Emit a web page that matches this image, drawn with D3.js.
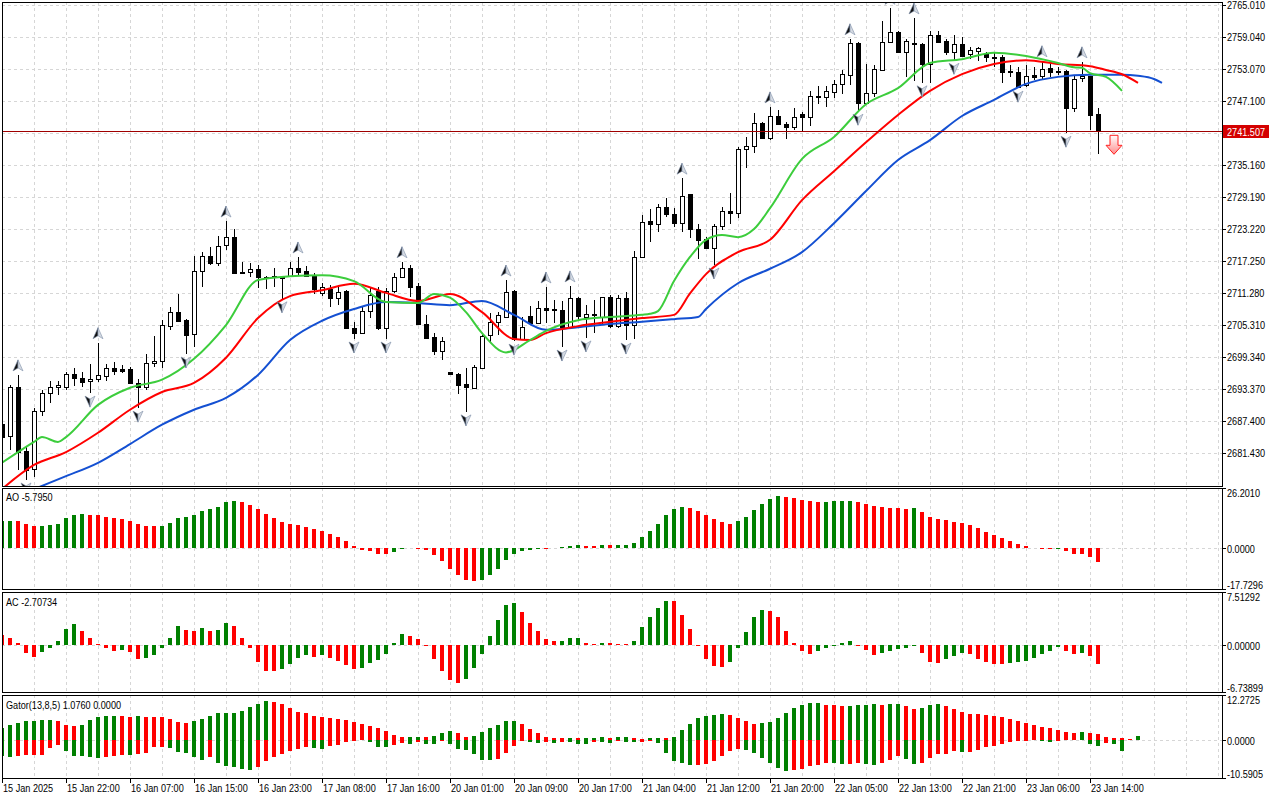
<!DOCTYPE html>
<meta charset="utf-8">
<style>
  body { margin: 0; background: #fff; }
  svg text {
    font-family: "Liberation Sans", Arial, sans-serif;
    font-size: 11px;
    fill: #000;
  }
  .grid line { stroke: #d6d6d6; stroke-dasharray: 3,3; shape-rendering: crispEdges; }
</style>
<body>
<script src="https://d3js.org/d3.v7.min.js"></script>
<script>

// ---- hourly candles, 15 Jan 14:00 .. 23 Jan 15:00 ----
var opens = [2686.8,2684.6,2693.7,2681.8,2678.4,2689.3,2692.6,2693.7,2693.7,2696.2,
  2695.4,2694.9,2695.2,2695.8,2697.3,2697.1,2697.1,2694.5,2693.7,2698.2,
  2698.6,2705.1,2707.7,2706.2,2703.6,2715.4,2718.2,2716.9,2720.2,2721.7,
  2715.2,2715.2,2715.8,2714.3,2714.3,2714.3,2714.4,2715.9,2715.4,2714.4,
  2711.3,2712.0,2710.3,2711.7,2704.8,2703.8,2707.9,2711.7,2704.8,2711.7,
  2714.3,2715.9,2712.6,2705.5,2703.1,2700.5,2696.5,2696.2,2694.3,2693.6,
  2697.3,2703.4,2705.9,2706.8,2711.7,2702.7,2707.0,2705.7,2708.5,2708.3,
  2708.1,2704.9,2710.3,2706.8,2707.4,2706.8,2710.5,2705.1,2710.3,2705.3,
  2718.0,2724.7,2724.1,2727.3,2726.0,2724.3,2729.7,2723.2,2721.4,2719.7,
  2723.8,2726.6,2726.2,2738.1,2738.7,2743.0,2740.2,2744.3,2742.8,2742.3,
  2744.7,2744.1,2748.0,2747.8,2748.8,2750.3,2752.0,2757.9,2746.7,2748.6,
  2752.9,2758.1,2760.0,2756.2,2757.9,2757.7,2754.0,2759.4,2758.3,2756.2,
  2757.7,2755.9,2756.4,2755.9,2755.3,2755.3,2752.7,2752.5,2750.1,2752.0,
  2751.8,2753.3,2752.7,2752.7,2745.8,2751.4,2751.8,2744.7];
var highs = [2687.6,2694.1,2696.0,2682.5,2689.8,2693.2,2694.9,2694.9,2696.5,2697.3,
  2696.5,2698.0,2702.0,2698.0,2698.4,2697.8,2697.5,2695.2,2699.9,2703.3,
  2706.2,2708.7,2711.1,2706.4,2718.2,2718.9,2719.9,2721.9,2724.7,2723.2,
  2717.1,2716.9,2716.5,2714.4,2715.9,2714.4,2717.1,2718.0,2716.3,2715.0,
  2713.1,2712.8,2712.4,2711.8,2705.9,2708.7,2712.2,2712.4,2712.2,2715.0,
  2717.1,2716.5,2713.1,2707.2,2703.8,2703.1,2696.5,2696.4,2697.3,2697.8,
  2703.4,2707.5,2707.7,2713.7,2711.8,2706.8,2708.9,2709.8,2712.4,2710.0,
  2709.8,2712.6,2710.5,2709.0,2710.0,2710.6,2710.9,2710.9,2711.5,2719.1,
  2725.8,2726.9,2727.9,2729.0,2727.1,2732.7,2729.8,2724.1,2721.7,2724.1,
  2727.3,2729.9,2738.5,2740.4,2744.9,2743.2,2746.0,2745.4,2743.2,2745.8,
  2745.0,2748.9,2749.9,2749.9,2751.0,2752.9,2758.7,2758.1,2754.0,2753.8,
  2762.0,2764.4,2760.2,2758.7,2762.6,2757.9,2760.2,2760.2,2758.7,2759.4,
  2759.0,2757.2,2757.2,2756.2,2756.1,2755.7,2753.8,2753.4,2753.8,2753.4,
  2754.6,2754.4,2753.4,2752.9,2751.8,2754.4,2751.8,2745.8];
var lows = [2682.9,2682.0,2678.3,2676.4,2677.0,2688.3,2690.8,2692.2,2693.2,2693.9,
  2693.7,2692.6,2694.7,2694.9,2696.0,2696.4,2694.3,2689.8,2693.2,2697.5,
  2697.3,2704.4,2705.9,2699.9,2701.2,2712.4,2716.5,2716.3,2719.3,2714.8,
  2714.8,2714.3,2712.2,2712.0,2712.4,2710.2,2714.3,2714.6,2714.3,2711.1,
  2710.7,2708.7,2709.0,2704.6,2702.7,2703.6,2706.6,2704.4,2702.7,2711.3,
  2714.1,2710.5,2705.3,2702.7,2699.7,2698.8,2696.2,2692.4,2689.1,2693.6,
  2697.3,2702.0,2703.4,2706.8,2702.3,2702.5,2705.3,2705.7,2705.7,2705.7,
  2701.2,2704.9,2706.2,2702.9,2703.8,2705.3,2704.8,2704.8,2702.5,2702.7,
  2717.8,2720.8,2722.7,2725.5,2723.6,2722.7,2721.5,2717.6,2719.5,2716.5,
  2723.0,2724.1,2725.3,2734.6,2737.4,2740.0,2739.8,2742.6,2740.0,2741.7,
  2741.5,2742.4,2746.5,2746.0,2747.7,2748.4,2750.1,2745.2,2746.5,2747.8,
  2752.7,2757.9,2756.1,2751.6,2750.8,2750.5,2750.5,2757.9,2755.7,2754.7,
  2755.3,2754.9,2754.6,2754.4,2753.4,2750.5,2751.6,2749.5,2749.7,2751.0,
  2751.0,2751.6,2752.0,2741.1,2745.0,2750.6,2741.7,2737.2];
var closes = [2684.4,2693.7,2681.6,2678.3,2689.3,2692.6,2693.7,2694.1,2696.2,2695.4,
  2694.7,2695.2,2696.0,2697.3,2696.7,2696.7,2694.5,2693.7,2698.2,2698.6,
  2705.3,2707.7,2706.1,2703.4,2715.4,2718.2,2716.9,2720.0,2721.7,2715.0,
  2715.1,2715.8,2714.4,2714.2,2714.4,2714.2,2715.9,2715.2,2714.4,2712.0,
  2712.4,2710.3,2711.5,2704.8,2703.8,2707.9,2710.9,2704.8,2711.7,2714.3,
  2715.9,2712.4,2705.5,2702.9,2700.5,2702.3,2696.2,2694.1,2693.7,2697.5,
  2703.2,2705.9,2707.2,2711.5,2702.7,2704.9,2705.7,2708.5,2708.1,2708.1,
  2704.9,2710.3,2707.0,2707.4,2707.2,2710.5,2705.1,2710.3,2705.3,2718.0,
  2724.5,2724.1,2727.3,2726.0,2724.3,2729.4,2723.2,2721.2,2719.7,2723.8,
  2726.6,2726.2,2738.1,2738.7,2743.0,2740.2,2744.3,2742.8,2742.3,2744.1,
  2744.1,2748.0,2747.9,2748.9,2750.3,2752.1,2757.9,2746.7,2748.6,2753.1,
  2758.1,2760.0,2756.2,2758.3,2757.7,2754.0,2759.4,2758.1,2756.2,2757.7,
  2755.5,2756.6,2757.0,2755.3,2755.2,2752.5,2752.5,2749.7,2751.8,2751.6,
  2753.1,2752.5,2752.5,2745.8,2751.2,2751.8,2744.5,2741.507];

// Alligator lines, read as [bar, price] (they run past the last candle)
var jawPts = [[0,2672.5],[4,2674.7],[8,2677.1],[12,2679.6],[16,2683.1],[20,2686.7],[24,2689.5],
  [28,2691.7],[32,2696.0],[36,2702.5],[40,2706.1],[44,2708.3],[48,2709.6],[52,2709.4],[56,2709.0],
  [60,2709.8],[64,2707.2],[68,2704.4],[72,2704.9],[76,2705.5],[80,2705.9],[84,2706.4],[87,2706.8],
  [88,2708.3],[92,2713.1],[96,2715.8],[100,2718.9],[104,2724.3],[108,2730.3],[112,2736.1],
  [116,2739.8],[120,2744.3],[124,2747.3],[128,2750.3],[132,2751.6],[136,2752.0],[140,2752.0],
  [142,2751.8],[144,2751.2],[145,2750.5]];
var teethPts = [[0,2674.7],[4,2679.2],[8,2681.6],[12,2685.2],[16,2689.5],[20,2692.8],[24,2694.5],
  [28,2699.2],[32,2706.6],[36,2710.7],[40,2711.8],[44,2713.0],[48,2711.3],[52,2709.8],[56,2711.1],
  [60,2707.7],[64,2702.7],[66,2702.5],[68,2703.8],[72,2705.1],[76,2705.9],[80,2706.6],[84,2707.2],
  [86,2711.2],[88,2714.8],[92,2718.9],[96,2721.2],[100,2728.6],[104,2734.0],[108,2739.4],
  [112,2744.5],[116,2749.0],[120,2752.1],[124,2754.0],[128,2754.7],[132,2754.0],[136,2753.6],
  [138,2752.9],[140,2752.1],[142,2750.5]];
var lipsPts = [[0,2679.6],[4,2683.5],[5,2684.4],[7,2683.5],[8,2684.4],[12,2690.4],[16,2693.6],
  [20,2695.1],[24,2699.0],[28,2705.3],[32,2713.7],[36,2714.4],[40,2714.6],[44,2713.5],[48,2709.6],
  [52,2709.4],[54,2711.1],[56,2710.4],[58,2707.7],[60,2703.8],[63,2700.2],[66,2702.5],[68,2704.2],
  [72,2706.2],[76,2706.8],[80,2707.2],[81,2707.4],[82,2707.9],[84,2713.5],[86,2718.0],[88,2721.2],
  [90,2722.1],[92,2721.7],[94,2723.2],[96,2727.1],[100,2736.3],[104,2740.4],[108,2746.5],
  [112,2749.5],[116,2754.2],[120,2754.9],[124,2756.1],[128,2755.5],[132,2754.2],[134,2753.4],
  [135,2753.3],[136,2752.3],[138,2751.6],[140,2749.0]];

// Bill Williams fractals (bar numbers)
var upFractals = [2,12,28,37,50,63,68,71,85,96,106,111,114,130,135];
var downFractals = [3,11,17,23,35,44,48,58,64,70,73,78,89,107,115,119,127,133];

// Awesome Oscillator
var aoValues = [11.7,12.0,11.9,10.4,9.6,9.7,10.0,10.4,13.1,14.4,14.8,14.4,14.3,13.5,13.1,12.5,12.0,10.4,9.6,9.5,
  9.7,10.9,13.1,13.5,14.4,16.1,17.0,17.8,20.3,20.7,19.9,19.0,17.0,14.8,13.1,11.3,10.4,10.0,9.1,8.3,
  7.4,6.2,4.8,3.0,0.9,-0.7,-1.0,-2.5,-2.6,-1.5,-0.3,-0.1,-0.2,-0.6,-2.9,-5.5,-9.0,-11.6,-13.8,-14.3,
  -13.8,-11.6,-9.0,-5.1,-2.5,-1.0,-0.6,-0.3,-0.4,0.1,0.4,0.9,1.3,0.9,0.8,1.3,1.2,1.3,1.6,2.2,
  4.8,7.4,10.6,14.4,17.0,17.8,17.7,16.1,14.4,12.6,11.3,10.4,11.7,13.5,16.5,19.1,21.3,22.6,22.5,21.8,
  20.9,20.4,20.0,20.1,20.4,20.5,20.6,20.0,19.1,18.3,17.8,17.4,17.3,17.0,17.4,15.8,13.5,12.6,12.2,11.3,
  10.9,10.0,8.7,7.0,5.7,4.4,3.0,1.7,0.9,-0.1,-0.2,-0.3,-0.2,-1.0,-2.5,-2.6,-3.8,-5.795];

// Accelerator Oscillator
var acValues = [1.4,1.0,0.2,-1.2,-1.8,-1.1,-0.4,0.6,2.3,2.9,2.0,0.9,0.15,-0.5,-0.85,-0.8,-1.1,-2.1,-1.9,-1.4,
  -0.5,1.0,2.6,2.1,2.0,2.4,2.0,2.1,3.1,2.6,0.9,-0.5,-2.4,-3.7,-3.8,-3.5,-2.8,-1.9,-1.5,-1.7,
  -1.4,-1.9,-2.3,-2.9,-3.5,-3.3,-2.6,-2.2,-1.3,0.2,1.5,1.3,0.8,-0.2,-2.0,-3.75,-5.0,-5.5,-4.9,-3.3,
  -1.3,1.2,3.5,5.6,5.9,4.6,3.1,1.9,0.8,0.5,0.55,0.9,0.95,0.3,0.05,0.3,0.2,0.15,0.12,0.6,
  2.5,4.0,5.2,6.3,6.2,4.3,2.2,-0.2,-2.0,-3.0,-3.2,-2.5,-0.5,1.8,3.9,4.9,4.75,3.9,2.0,0.3,
  -0.9,-1.3,-0.9,-0.5,-0.2,0.2,0.5,-0.2,-0.8,-1.5,-1.2,-0.9,-0.6,-0.5,-0.2,-1.2,-2.5,-2.55,-2.0,-1.6,
  -1.2,-1.3,-2.0,-2.5,-2.75,-2.8,-2.6,-2.5,-2.3,-1.9,-1.3,-0.9,-0.3,-0.9,-1.3,-1.2,-1.6,-2.707];

// Gator Oscillator
var gatorUpper = [3.2,4.1,4.5,5.0,5.2,5.25,5.3,5.0,4.1,3.6,3.9,5.3,6.1,6.4,6.45,6.4,6.35,6.4,6.35,6.3,
  6.1,5.6,4.7,4.65,5.2,5.7,6.4,7.2,7.25,7.3,8.0,9.1,9.9,10.5,10.45,9.7,8.6,7.7,7.2,6.6,
  6.1,5.9,5.55,5.5,4.8,4.2,3.7,3.2,2.4,1.3,0.6,0.65,0.7,0.65,1.0,1.7,2.3,1.7,0.8,1.0,
  2.1,3.2,4.0,5.0,5.05,4.3,2.8,1.7,0.6,0.4,0.3,0.35,0.3,0.4,0.45,0.6,0.5,0.6,0.65,0.3,
  0.15,0.45,0.5,0.45,0.8,2.7,4.4,6.0,6.55,6.8,7.1,6.8,6.0,5.2,4.4,4.6,4.9,6.0,7.4,8.7,
  9.6,10.1,10.15,9.6,9.55,9.3,9.35,9.6,9.65,9.7,9.6,9.8,9.85,9.3,8.5,8.7,9.6,9.8,9.3,8.5,
  7.6,7.1,7.05,6.8,6.55,6.3,5.7,5.2,4.6,4.1,3.5,3.3,2.5,2.2,1.8,2.0,1.7,1.65,0.8,0.55,
  0.3,0.1,1.076];
var gatorLower = [4.55,4.7,4.65,4.3,4.2,4.15,2.3,1.55,3.2,4.4,4.6,4.9,5.0,4.7,4.4,4.2,4.3,4.0,3.7,2.1,
  2.0,2.2,3.4,3.7,4.8,5.6,4.9,6.4,7.2,7.5,8.0,8.5,7.5,5.9,4.8,4.0,3.2,2.6,2.1,2.4,
  2.6,1.9,1.5,0.6,0.3,0.2,0.6,2.1,2.15,1.5,0.9,1.2,0.7,1.1,1.15,0.45,1.2,2.5,3.0,4.1,
  5.6,5.65,5.3,3.7,1.9,0.5,0.6,1.0,0.6,0.9,0.7,0.8,1.1,1.2,0.6,0.8,0.85,0.5,0.6,0.7,
  0.55,0.4,1.0,3.7,5.9,6.5,7.0,6.95,6.7,5.9,4.55,3.2,2.6,2.9,3.7,5.1,6.5,7.8,8.6,8.4,
  8.1,7.3,7.0,6.5,6.55,6.7,6.65,6.5,6.7,7.0,6.5,5.6,4.6,5.3,6.6,6.4,5.1,4.0,3.9,3.2,
  3.5,3.45,2.9,2.1,1.8,1.3,0.75,0.45,0.35,0.25,0.45,0.75,0.45,0.2,0.1,0.05,1.3,1.8,1.0,1.3,
  3.2];

var priceTicks = [2765.010,2759.040,2753.070,2747.100,2741.130,2735.160,2729.190,2723.220,
  2717.250,2711.280,2705.310,2699.340,2693.370,2687.400,2681.430];
var lastPrice = 2741.507;
var signalBar = 139, signalPrice = 2740.7;

var timeBars = [0,8,16,24,32,40,48,56,64,72,80,88,96,104,112,120,128,136];
var timeLabels = ["15 Jan 2025","15 Jan 22:00","16 Jan 07:00","16 Jan 15:00","16 Jan 23:00",
  "17 Jan 08:00","17 Jan 16:00","20 Jan 01:00","20 Jan 09:00","20 Jan 17:00","21 Jan 04:00",
  "21 Jan 12:00","21 Jan 20:00","22 Jan 05:00","22 Jan 13:00","22 Jan 21:00","23 Jan 06:00",
  "23 Jan 14:00"];

// ---- layout ----
var left = 2, right = 1222;
var panels = {
  main:  { top: 2,   bottom: 486 },
  ao:    { top: 488, bottom: 589 },
  ac:    { top: 592, bottom: 692 },
  gator: { top: 695, bottom: 778 }
};
var green = "#008000", red = "#ff0000";
var squeeze = 0.83; // terminal font is narrower than Liberation Sans

var svg = d3.select("body").append("svg")
  .attr("width", 1280).attr("height", 800);

var x = d3.scaleLinear().domain([0, 152.5]).range([left, right]);
var px = function (i) { return Math.round(x(i)) + 0.5; };

var yMain = d3.scaleLinear().domain([2675.27, 2765.57]).range([panels.main.bottom, panels.main.top]);
var yAO = d3.scaleLinear().domain([-17.7296, 26.2010]).range([panels.ao.bottom, panels.ao.top]);
var yAC = d3.scaleLinear().domain([-6.73899, 7.51292]).range([panels.ac.bottom, panels.ac.top]);
var yGator = d3.scaleLinear().domain([-10.5905, 12.2725]).range([panels.gator.bottom, panels.gator.top]);

function label(g, tx, ty, str) {
  return g.append("text")
    .attr("transform", "translate(" + tx + "," + ty + ") scale(" + squeeze + ",1)")
    .text(str);
}

var defs = svg.append("defs");
Object.keys(panels).forEach(function (k) {
  var p = panels[k];
  defs.append("clipPath").attr("id", "clip-" + k)
    .append("rect").attr("x", left).attr("y", p.top)
    .attr("width", right - left).attr("height", p.bottom - p.top);
});
var grad = defs.append("linearGradient").attr("id", "sigGrad")
  .attr("x1", 0).attr("y1", 0).attr("x2", 0).attr("y2", 1);
grad.append("stop").attr("offset", "0%").attr("stop-color", "#ffffff");
grad.append("stop").attr("offset", "100%").attr("stop-color", "#ff8c8c");

// ---- grid ----
var gridBars = d3.range(4, 153, 4);
Object.keys(panels).forEach(function (k) {
  var p = panels[k];
  svg.append("g").attr("class", "grid")
    .selectAll("line").data(gridBars).join("line")
    .attr("x1", px).attr("x2", px)
    .attr("y1", p.top).attr("y2", p.bottom);
});
svg.append("g").attr("class", "grid")
  .selectAll("line").data(priceTicks).join("line")
  .attr("x1", left).attr("x2", right)
  .attr("y1", function (d) { return Math.round(yMain(d)) + 0.5; })
  .attr("y2", function (d) { return Math.round(yMain(d)) + 0.5; });
[yAO, yAC, yGator].forEach(function (y) {
  svg.append("g").attr("class", "grid").append("line")
    .attr("x1", left).attr("x2", right)
    .attr("y1", Math.round(y(0)) + 0.5).attr("y2", Math.round(y(0)) + 0.5);
});

// ---- candles ----
var candles = opens.map(function (o, i) {
  return { i: i, o: o, h: highs[i], l: lows[i], c: closes[i] };
});
var gMain = svg.append("g").attr("clip-path", "url(#clip-main)");
var gC = gMain.append("g").attr("shape-rendering", "crispEdges");
gC.selectAll("line").data(candles).join("line")
  .attr("x1", function (d) { return px(d.i); }).attr("x2", function (d) { return px(d.i); })
  .attr("y1", function (d) { return Math.round(yMain(d.h)); })
  .attr("y2", function (d) { return Math.round(yMain(d.l)); })
  .attr("stroke", "#000");
gC.selectAll("rect").data(candles).join("rect")
  .attr("x", function (d) { return px(d.i) - 2; })
  .attr("width", 4)
  .attr("y", function (d) { return Math.round(yMain(Math.max(d.o, d.c))) + 0.5; })
  .attr("height", function (d) { return Math.round(Math.abs(yMain(d.o) - yMain(d.c))); })
  .attr("fill", function (d) { return d.c > d.o ? "#fff" : "#000"; })
  .attr("stroke", "#000");

// ---- alligator ----
var line = d3.line()
  .x(function (d) { return x(d[0]); })
  .y(function (d) { return yMain(d[1]); })
  .curve(d3.curveMonotoneX);
[[jawPts, "#1450d2"], [teethPts, "#ff0000"], [lipsPts, "#3ccd3c"]].forEach(function (s) {
  gMain.append("path").datum(s[0]).attr("d", line)
    .attr("fill", "none").attr("stroke", s[1]).attr("stroke-width", 2);
});

// ---- fractals ----
function fractal(g, bars, up) {
  var s = up ? 1 : -1;
  var f = g.selectAll("g.f" + (up ? "u" : "d")).data(bars).join("g")
    .attr("class", "f" + (up ? "u" : "d"))
    .attr("transform", function (i) {
      var yy = up ? yMain(highs[i]) - 9 : yMain(lows[i]) + 8;
      return "translate(" + x(i) + "," + yy + ")";
    });
  f.append("path").attr("d", "M0," + (-6 * s) + "L-5," + (5 * s) + "L0," + (2 * s) + "Z")
    .attr("fill", "#111").attr("stroke", "#7d8fa8").attr("stroke-width", 0.6);
  f.append("path").attr("d", "M0," + (-6 * s) + "L5," + (5 * s) + "L0," + (2 * s) + "Z")
    .attr("fill", "#d5dae2").attr("stroke", "#7d8fa8").attr("stroke-width", 0.6);
}
fractal(gMain, upFractals, true);
fractal(gMain, downFractals, false);

// last price line + signal arrow
var yl = Math.round(yMain(lastPrice)) + 0.5;
svg.append("line").attr("x1", left).attr("x2", right).attr("y1", yl).attr("y2", yl)
  .attr("stroke", "#a00000").attr("shape-rendering", "crispEdges");
var sx = x(signalBar), sy = yMain(signalPrice);
svg.append("path")
  .attr("d", "M" + (sx - 4) + "," + sy + "h8v10h4l-8,9l-8,-9h4z")
  .attr("fill", "url(#sigGrad)").attr("stroke", "#ff2020").attr("stroke-width", 1);

// ---- indicator histograms ----
function histogram(key, values, y, firstColor, down) {
  var zero = y(0);
  svg.append("g").attr("clip-path", "url(#clip-" + key + ")").attr("shape-rendering", "crispEdges")
    .selectAll("rect").data(values).join("rect")
    .attr("x", function (v, i) { return Math.round(x(i)) - 2; })
    .attr("width", 4)
    .attr("y", function (v) { return Math.min(y(down ? -v : v), zero); })
    .attr("height", function (v) { return Math.abs(y(down ? -v : v) - zero); })
    .attr("fill", function (v, i) {
      if (i === 0) return firstColor;
      return v > values[i - 1] ? green : red;
    });
}
histogram("ao", aoValues, yAO, green, false);
histogram("ac", acValues, yAC, red, false);
histogram("gator", gatorUpper, yGator, green, false);
histogram("gator", gatorLower, yGator, green, true);

// ---- panel frames ----
Object.keys(panels).forEach(function (k) {
  var p = panels[k];
  svg.append("rect").attr("x", left + 0.5).attr("y", p.top + 0.5)
    .attr("width", right - left).attr("height", p.bottom - p.top)
    .attr("fill", "none").attr("stroke", "#000").attr("shape-rendering", "crispEdges");
});

// ---- right price axis ----
var gAx = svg.append("g");
gAx.selectAll("line").data(priceTicks).join("line")
  .attr("x1", right).attr("x2", right + 4)
  .attr("y1", function (d) { return Math.round(yMain(d)) + 0.5; })
  .attr("y2", function (d) { return Math.round(yMain(d)) + 0.5; })
  .attr("stroke", "#000").attr("shape-rendering", "crispEdges");
priceTicks.forEach(function (d) {
  label(gAx, right + 5, Math.round(yMain(d)) + 4, d.toFixed(3));
});

gAx.append("rect").attr("x", right + 1).attr("y", yl - 6.5).attr("width", 46).attr("height", 13)
  .attr("fill", "#d40000");
label(gAx, right + 5, yl + 4, lastPrice.toFixed(3)).style("fill", "#fff");

// indicator axes
[[yAO, panels.ao, 4], [yAC, panels.ac, 5], [yGator, panels.gator, 4]].forEach(function (a) {
  var y = a[0], p = a[1], dec = a[2];
  var dom = y.domain();
  [dom[1], 0, dom[0]].forEach(function (t) {
    var ty = Math.round(y(t)) + 0.5;
    gAx.append("line").attr("x1", right).attr("x2", right + 4).attr("y1", ty).attr("y2", ty)
      .attr("stroke", "#000").attr("shape-rendering", "crispEdges");
    var cy = Math.min(Math.max(ty, p.top + 5), p.bottom - 4);
    label(gAx, right + 5, cy + 4, t.toFixed(dec));
  });
});

// ---- time axis ----
var gT = svg.append("g");
gT.selectAll("line").data(timeBars).join("line")
  .attr("x1", px).attr("x2", px)
  .attr("y1", panels.gator.bottom).attr("y2", panels.gator.bottom + 5)
  .attr("stroke", "#000").attr("shape-rendering", "crispEdges");
timeBars.forEach(function (b, i) {
  label(gT, Math.round(x(b)) + 1, 792, timeLabels[i]);
});

// ---- panel captions ----
label(svg, 6, 501, "AO -5.7950");
label(svg, 6, 606, "AC -2.70734");
label(svg, 6, 709, "Gator(13,8,5) 1.0760 0.0000");

</script>
</body>
